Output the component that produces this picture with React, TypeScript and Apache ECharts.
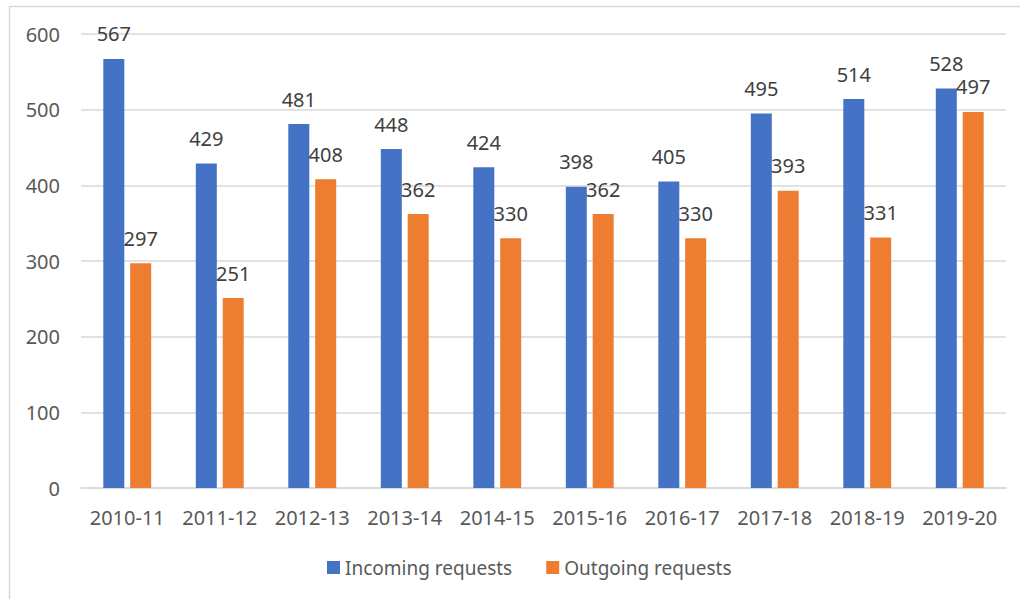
import React, { useEffect, useRef } from "react";
import * as echarts from "echarts";

const categories = ["2010-11", "2011-12", "2012-13", "2013-14", "2014-15", "2015-16", "2016-17", "2017-18", "2018-19", "2019-20"];
const incoming = [567, 429, 481, 448, 424, 398, 405, 495, 514, 528];
const outgoing = [297, 251, 408, 362, 330, 362, 330, 393, 331, 497];
const seriesNames = ["Incoming requests", "Outgoing requests"];
const colors = ["#4472C4", "#ED7D31"];

const FONT = "Noto Sans";

export default function App() {
  const ref = useRef<HTMLDivElement>(null);
  useEffect(() => {
    if (!ref.current) return;
    const chart = echarts.init(ref.current, null, { renderer: "svg" });
    const labelStyle = {
      show: true,
      position: "top" as const,
      distance: 15,
      color: "#404040",
      fontFamily: FONT,
      fontSize: 20,
    };
    chart.setOption({
      animation: false,
      backgroundColor: "#ffffff",
      textStyle: { fontFamily: FONT },
      graphic: [
        {
          type: "rect",
          shape: { x: 9.5, y: 6.5, width: 1200, height: 800 },
          style: { fill: "none", stroke: "#d9d9d9", lineWidth: 1.5 },
          silent: true,
        },
      ],
      grid: { left: 81, right: 14, top: 34, bottom: 111, containLabel: false },
      legend: {
        left: 322,
        top: 553,
        itemWidth: 13,
        itemHeight: 13,
        itemGap: 34,
        icon: "rect",
        textStyle: { color: "#595959", fontFamily: FONT, fontSize: 19 },
        data: seriesNames,
      },
      xAxis: {
        type: "category",
        data: categories,
        axisLine: { lineStyle: { color: "#d9d9d9", width: 1.5 } },
        axisTick: { show: false },
        axisLabel: { color: "#595959", fontFamily: FONT, fontSize: 20, margin: 19, interval: 0 },
      },
      yAxis: {
        type: "value",
        min: 0,
        max: 600,
        interval: 100,
        axisLine: { show: false },
        axisTick: { show: false },
        splitLine: { lineStyle: { color: "#d9d9d9", width: 1.5 } },
        axisLabel: { color: "#595959", fontFamily: FONT, fontSize: 20, margin: 21 },
      },
      series: [
        {
          name: seriesNames[0],
          type: "bar",
          data: incoming,
          itemStyle: { color: colors[0] },
          barWidth: 21,
          barGap: "28%",
          label: labelStyle,
        },
        {
          name: seriesNames[1],
          type: "bar",
          data: outgoing,
          itemStyle: { color: colors[1] },
          barWidth: 21,
          barGap: "28%",
          label: labelStyle,
        },
      ],
    });
    return () => chart.dispose();
  }, []);
  return (
    <div
      ref={ref}
      style={{ position: "absolute", left: 0, top: 0, width: 1020, height: 599 }}
    />
  );
}
